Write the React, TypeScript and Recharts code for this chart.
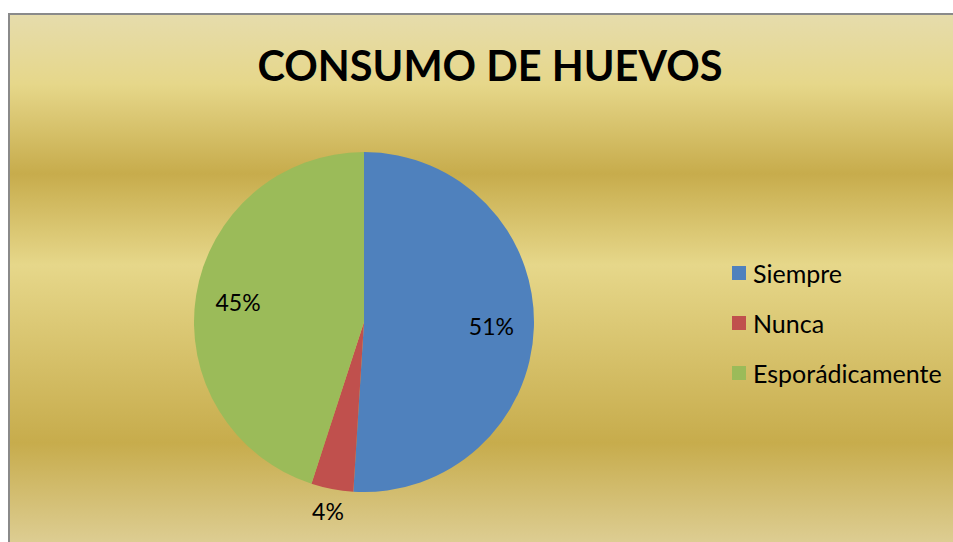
import React from 'react';
import { PieChart, Pie, Cell, Legend } from 'recharts';

const categories = ['Siempre', 'Nunca', 'Esporádicamente'];
const values = [51, 4, 45];
const colors = ['#4F81BD', '#C0504D', '#9BBB59'];

const data = categories.map((name, i) => ({ name, value: values[i] }));

const FONT = 'Lato, "Open Sans", sans-serif';
const RAD = Math.PI / 180;

// Excel-style "best fit": inside for big slices, outside for tiny ones
const renderLabel = ({ cx, cy, midAngle, outerRadius, percent }: any) => {
  const r = percent < 0.1 ? outerRadius * 1.13 : outerRadius * 0.75;
  const x = cx + r * Math.cos(-midAngle * RAD);
  const y = cy + r * Math.sin(-midAngle * RAD);
  return (
    <text
      x={x}
      y={y}
      fill="#000"
      fontSize={23}
      fontFamily={FONT}
      textAnchor="middle"
      dominantBaseline="central"
    >
      {`${Math.round(percent * 100)}%`}
    </text>
  );
};

const LegendContent = () => (
  <div style={{ fontFamily: FONT, fontSize: 25, color: '#000' }}>
    {data.map((d, i) => (
      <div key={d.name} style={{ display: 'flex', alignItems: 'center', height: 50 }}>
        <span style={{ width: 14, height: 14, background: colors[i], marginRight: 7, display: 'inline-block' }} />
        <span>{d.name}</span>
      </div>
    ))}
  </div>
);

export default function App() {
  return (
    <div
      style={{
        position: 'fixed',
        top: 13,
        left: 8,
        width: 970,
        height: 540,
        boxSizing: 'border-box',
        borderTop: '2px solid #8a8a8a',
        borderLeft: '2px solid #8a8a8a',
        overflow: 'hidden',
        background:
          'linear-gradient(to bottom, #E6DCAC 0%, #E6D78A 12.8%, #C7AC4C 29.5%, #E6D78A 46.5%, #C7AC4C 79.5%, #DDCD92 98%)',
      }}
    >
      <div
        style={{
          position: 'absolute',
          top: 25,
          left: 0,
          width: 960,
          textAlign: 'center',
          fontFamily: FONT,
          fontWeight: 700,
          fontSize: 41.5,
          color: '#000',
        }}
      >
        CONSUMO DE HUEVOS
      </div>
      <PieChart
        width={960}
        height={538}
        margin={{ top: 0, right: 0, bottom: 0, left: 0 }}
        style={{ position: 'absolute', top: 0, left: 0 }}
      >
        <Pie
          data={data}
          dataKey="value"
          nameKey="name"
          cx={354}
          cy={307}
          outerRadius={170}
          startAngle={90}
          endAngle={-270}
          stroke="none"
          label={renderLabel}
          labelLine={false}
          isAnimationActive={false}
        >
          {data.map((d, i) => (
            <Cell key={d.name} fill={colors[i]} />
          ))}
        </Pie>
        <Legend
          content={<LegendContent />}
          wrapperStyle={{ position: 'absolute', left: 722, top: 233, width: 220 }}
        />
      </PieChart>
    </div>
  );
}
